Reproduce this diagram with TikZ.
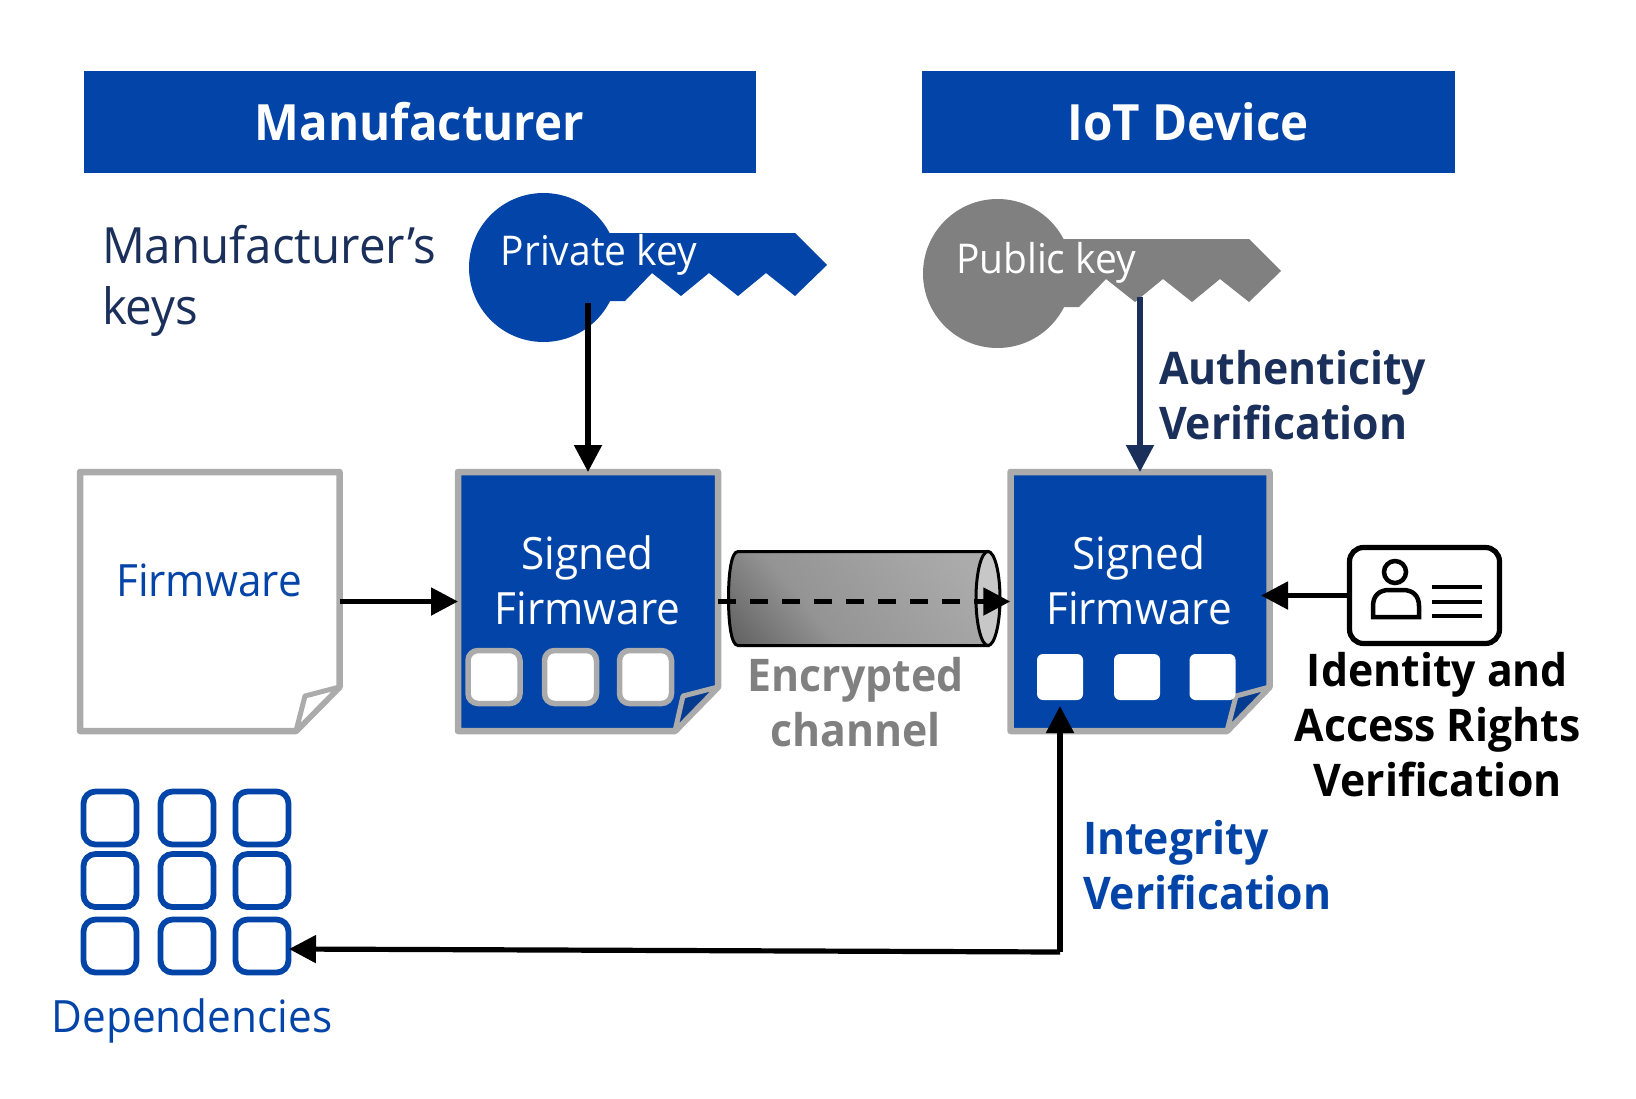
\documentclass[tikz,border=0pt]{standalone}
\usepackage{fontspec}
\setmainfont{Open Sans}[FakeStretch=0.95]
\usetikzlibrary{arrows.meta,calc,shapes.geometric}
\definecolor{blu}{HTML}{0244A7}
\definecolor{fold}{HTML}{063C90}
\definecolor{edge}{HTML}{ABABAB}
\definecolor{navy}{HTML}{1B2F5B}
\definecolor{grayk}{HTML}{808080}
\pgfdeclareverticalshading{cylshade}{100bp}{color(0bp)=(black!60); color(18bp)=(black!60); color(38bp)=(black!42); color(60bp)=(black!37); color(78bp)=(black!33); color(100bp)=(black!33)}
\tikzset{
  x=1pt,y=-1pt,
  txt/.style={inner sep=0pt,outer sep=0pt},
  banner/.style={fill=blu,draw=none,text=white,inner sep=0pt,outer sep=0pt,font=\fontsize{50}{55}\selectfont\bfseries},
  anchorbox/.style={inner sep=0pt,outer sep=0pt,minimum width=259.5pt,minimum height=259pt},
  docedge/.style={draw=edge,line width=6.5pt,line join=round},
  foldedge/.style={draw=edge,line width=5pt,line join=round},
  conn/.style={line width=5.2pt,-{Triangle[length=27pt,width=27pt]}},
  sq/.style={rounded corners=10pt,inner sep=0pt,outer sep=0pt},
  depsq/.style={draw=blu,line width=5.8pt,rounded corners=12pt,inner sep=0pt,outer sep=0pt,minimum width=53pt,minimum height=53pt,fill=white},
  lab/.style={txt,align=left,font=\fontsize{45}{55}\selectfont\bfseries},
  regtxt/.style={txt,font=\fontsize{44.5}{55}\selectfont},
  keytxt/.style={txt,text=white,font=\fontsize{41}{44}\selectfont},
}
\begin{document}
\begin{tikzpicture}
\useasboundingbox (0,0) rectangle (1636,1098);
% banners
\node[banner,minimum width=672pt,minimum height=102pt] (hm) at (419.5,122) {\raisebox{-1pt}{Manufacturer}};
\node[banner,minimum width=533pt,minimum height=102pt] (hi) at (1188,122) {\raisebox{-1pt}{IoT Device}};
\node[txt,align=left,anchor=west,text=navy,font=\fontsize{50}{61}\selectfont] (mk) at (102,281) {Manufacturer’s\\keys};
% private key
\fill[blu] (543.5,267.5) circle (74.5);
\fill[blu] (605,233) -- (795,233) -- (827,265) -- (795,296) -- (766,273) -- (738,296) -- (709,273) -- (681,296) -- (652,273) -- (625,301) -- (605,301) -- cycle;
\node[keytxt] (pk) at (599,255) {Private key};
\coordinate (pkout) at (588,303);
% public key
\begin{scope}[shift={(454,6)}]
\fill[grayk] (543.5,267.5) circle (74.5);
\fill[grayk] (605,233) -- (795,233) -- (827,265) -- (795,296) -- (766,273) -- (738,296) -- (709,273) -- (681,296) -- (652,273) -- (625,301) -- (605,301) -- cycle;
\end{scope}
\node[keytxt] (uk) at (1046,263) {Public key};
\coordinate (ukout) at (1140,297);
% firmware doc
\path[docedge,fill=white] (80,472) -- (339.5,472) -- (339.5,687) -- (296,731) -- (80,731) -- cycle;
\path[foldedge,fill=white] (339.5,687) -- (305,696) -- (296,731) -- cycle;
\node[anchorbox] (doca) at (209.75,601.5) {};
\node[regtxt,text=blu] (fw) at (209,580) {Firmware};
% signed doc 1
\path[docedge,fill=blu] (458,472) -- (718,472) -- (718,687) -- (675,731) -- (458,731) -- cycle;
\path[foldedge,fill=fold] (718,687) -- (683,696) -- (675,731) -- cycle;
\node[anchorbox,minimum width=260pt] (docb) at (588,601.5) {};
\node[regtxt,text=white,align=center] (sb) at (587.5,580) {Signed\\Firmware};
\foreach \n/\xx in {1/494,2/570.5,3/645.5}
  \node[sq,fill=white,draw=edge,line width=5.5pt,minimum width=52pt,minimum height=53pt] (b\n) at (\xx,677) {};
% signed doc 2
\path[docedge,fill=blu] (1010.5,472) -- (1269.5,472) -- (1269.5,687) -- (1227,731) -- (1010.5,731) -- cycle;
\path[foldedge,fill=fold] (1269.5,687) -- (1236,696) -- (1227,731) -- cycle;
\node[anchorbox] (docc) at (1140,601.5) {};
\node[regtxt,text=white,align=center] (sc) at (1139,580) {Signed\\Firmware};
\foreach \n/\xx in {1/1060,2/1137,3/1212.5}
  \node[sq,fill=white,minimum width=46pt,minimum height=46pt,rounded corners=6pt] (c\n) at (\xx,677) {};
% cylinder
\path[draw=black,line width=3pt,shading=cylshade,shading angle=-50]
  (988,551.5) -- (738,551.5) .. controls (731,551.5) and (728.5,575) .. (728.5,598) .. controls (728.5,622) and (731,645.5) .. (738,645.5) -- (988,645.5) -- cycle;
\node[draw=black,line width=3pt,fill=black!22,ellipse,inner sep=0pt,outer sep=0pt,minimum width=24pt,minimum height=94pt] (cy) at (988,598.5) {};
\node[txt,text=grayk,align=center,font=\fontsize{45}{55}\selectfont\bfseries] (ec) at (855.5,702.5) {Encrypted\\channel};
% id card
\node[draw=black,line width=5.2pt,rounded corners=14pt,fill=white,inner sep=0pt,outer sep=2.5pt,minimum width=150pt,minimum height=96pt] (card) at (1424.5,595.5) {};
\draw[line width=4.5pt] (1395,572) circle (11);
\draw[line width=4.5pt] (1373,617) -- (1373,606) .. controls (1373,595) and (1380,590) .. (1389,590) -- (1403,590) .. controls (1412,590) and (1419,595) .. (1419,606) -- (1419,617) -- cycle;
\foreach \yy in {587,602,616} \draw[line width=3.2pt] (1432,\yy) -- (1482,\yy);
\node[txt,align=center,font=\fontsize{45}{55}\selectfont\bfseries] (ia) at (1437.5,725) {Identity and\\Access Rights\\Verification};
% dependencies
\foreach \r/\yy in {1/818,2/880.5,3/946}
  \foreach \c/\xx in {1/110,2/187,3/262}
    \node[depsq] (d\r\c) at (\xx,\yy) {};
\node[regtxt,text=blu] (dp) at (192,1020.5) {Dependencies};
% labels
\node[lab,text=navy,anchor=west] (av) at (1159,395.5) {Authenticity\\Verification};
\node[lab,text=blu,anchor=west] (iv) at (1083,865.5) {Integrity\\Verification};
% connectors
\draw[conn] (doca.east) -- (docb.west);
\draw[conn] (pkout) -- (docb.north);
\draw[conn,navy] (ukout) -- (docc.north);
\draw[conn,dashed,dash pattern=on 18pt off 14pt] (docb.east) -- (docc.west);
\coordinate (idin) at (1261,595.5);
\draw[conn] (card.west) -- (idin);
\coordinate (intin) at (1060,706);
\coordinate (intcorner) at (1060,952);
\coordinate (depin) at (289,949);
\draw[conn,line join=miter] (intcorner) -- (intin);
\draw[conn] (intcorner) -- (depin);
\end{tikzpicture}
\end{document}
